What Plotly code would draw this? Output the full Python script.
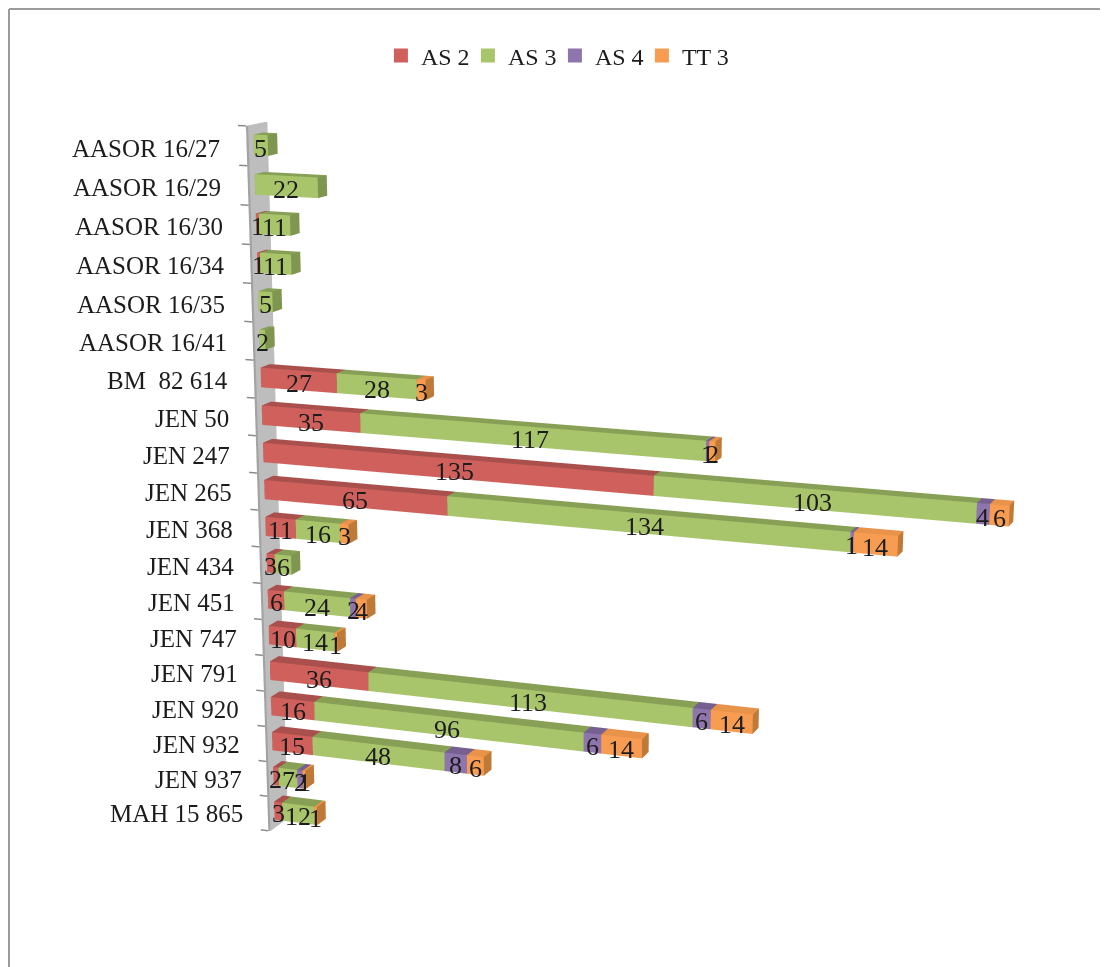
"""3D-style stacked bar chart of tablet counts by publication."""

import plotly.graph_objects as go

# ── Data ──────────────────────────────────────────────────────────────────────
CATEGORIES = [
    "AASOR 16/27", "AASOR 16/29", "AASOR 16/30", "AASOR 16/34", "AASOR 16/35",
    "AASOR 16/41", "BM  82 614", "JEN 50", "JEN 247", "JEN 265", "JEN 368",
    "JEN 434", "JEN 451", "JEN 747", "JEN 791", "JEN 920", "JEN 932",
    "JEN 937", "MAH 15 865",
]
AS2 = [0, 0, 1, 1, 0, 0, 27, 35, 135, 65, 11, 3, 6, 10, 36, 16, 15, 2, 3]
AS3 = [5, 22, 11, 11, 5, 2, 28, 117, 103, 134, 16, 6, 24, 14, 113, 96, 48, 7, 12]
AS4 = [0, 0, 0, 0, 0, 0, 0, 1, 4, 1, 0, 0, 2, 0, 6, 6, 8, 2, 0]
TT3 = [0, 0, 0, 0, 0, 0, 3, 2, 6, 14, 3, 0, 4, 1, 14, 14, 6, 1, 1]

# ── Theme ─────────────────────────────────────────────────────────────────────
FONT = "Liberation Serif"
TEXT = "#1c1c1c"
FRAME = "#9c9c9c"
# name, values, front, top, end
SERIES = [
    ("AS 2", AS2, "#d0605c", "#a9504d", "#a9504d"),
    ("AS 3", AS3, "#a9c56b", "#87a055", "#7f9650"),
    ("AS 4", AS4, "#8f75ad", "#75608f", "#6f5a88"),
    ("TT 3", TT3, "#f79c50", "#e8924a", "#bf7a38"),
]

# bars have depth 1; the back of a box leans by this much (value units, rows)
LEAN_X = 2.1
LEAN_Z = 0.09
# rows drop a little along the value axis
SHEAR = 0.0053
HALF_BAR = 0.26
N = len(CATEGORIES)


def place(x, y, z):
    return x + LEAN_X * y, y, z + LEAN_Z * y - SHEAR * x


def add_box(mesh, x0, x1, z0, z1, y0, y1, front, top, end):
    """Append one box (12 triangles) to a mesh dict."""
    base = len(mesh["x"])
    for y in (y0, y1):
        for x, z in ((x0, z0), (x1, z0), (x1, z1), (x0, z1)):
            px, py, pz = place(x, y, z)
            mesh["x"].append(px)
            mesh["y"].append(py)
            mesh["z"].append(pz)
    faces = [
        ((0, 1, 2), front), ((0, 2, 3), front),
        ((3, 2, 6), top), ((3, 6, 7), top),
        ((1, 5, 6), end), ((1, 6, 2), end),
        ((0, 4, 7), end), ((0, 7, 3), end),
        ((0, 1, 5), end), ((0, 5, 4), end),
        ((4, 5, 6), end), ((4, 6, 7), end),
    ]
    for (a, b, c), color in faces:
        mesh["i"].append(base + a)
        mesh["j"].append(base + b)
        mesh["k"].append(base + c)
        mesh["facecolor"].append(color)


def new_mesh():
    return dict(x=[], y=[], z=[], i=[], j=[], k=[], facecolor=[])


def flat(mesh):
    return go.Mesh3d(
        **mesh, flatshading=True, hoverinfo="skip", showscale=False,
        lighting=dict(ambient=1, diffuse=0, specular=0, fresnel=0, roughness=1),
    )


def label(x, y, z, text, anchor, size):
    px, py, pz = place(x, y, z)
    return dict(
        x=px, y=py, z=pz, text=text, showarrow=False,
        xanchor=anchor, yanchor="middle",
        font=dict(family=FONT, size=size, color=TEXT),
    )


fig = go.Figure()
annotations = []

# Axis wall
wall = new_mesh()
add_box(wall, -0.8, 0, -0.5, N - 0.5, -0.5, 1.5, "#a3a3a3", "#bdbdbd", "#bdbdbd")
fig.add_trace(flat(wall))

# Tick marks at the row boundaries
tick_x, tick_y, tick_z = [], [], []
for r in range(N + 1):
    for x in (-0.8, -3.6):
        px, py, pz = place(x, -0.5, r - 0.5)
        tick_x.append(px)
        tick_y.append(py)
        tick_z.append(pz)
    tick_x.append(None)
    tick_y.append(None)
    tick_z.append(None)
fig.add_trace(go.Scatter3d(
    x=tick_x, y=tick_y, z=tick_z, mode="lines",
    line=dict(color="#8c8c8c", width=3), hoverinfo="skip", showlegend=False,
))

# Stacked bars
totals = [0] * N
for name, values, front, top, end in SERIES:
    mesh = new_mesh()
    for i, v in enumerate(values):
        if not v:
            continue
        z = N - 1 - i
        add_box(mesh, totals[i], totals[i] + v, z - HALF_BAR, z + HALF_BAR, 0, 1, front, top, end)
        annotations.append(label(totals[i] + v / 2, 0, z - 0.08, str(v), "center", 26))
        totals[i] += v
    fig.add_trace(flat(mesh))
    # legend entry
    fig.add_trace(go.Scatter(x=[None], y=[None], name=name, mode="markers",
                             marker=dict(color=front, symbol="square", size=14)))

# Category labels
for i, cat in enumerate(CATEGORIES):
    annotations.append(label(-9.5, -0.5, N - 1 - i - 0.09, cat, "right", 25))

hidden = dict(visible=False, showgrid=False, zeroline=False, showticklabels=False,
              showspikes=False, autorange=False)

fig.update_layout(
    width=1100, height=959,
    margin=dict(l=0, r=0, t=0, b=0),
    paper_bgcolor="white",
    plot_bgcolor="rgba(0,0,0,0)",
    font=dict(family=FONT, size=24, color=TEXT),
    showlegend=True,
    legend=dict(orientation="h", x=0.4972, xanchor="center", y=0.95, yanchor="middle",
                entrywidth=42, entrywidthmode="pixels",
                bgcolor="rgba(0,0,0,0)", font=dict(family=FONT, size=24, color=TEXT)),
    xaxis=dict(visible=False), yaxis=dict(visible=False),
    scene=dict(
        domain=dict(x=[0, 1092 / 1100], y=[8 / 959, 1]),
        bgcolor="rgba(0,0,0,0)",
        aspectmode="manual",
        aspectratio=dict(x=2.60, y=0.066, z=2.02),
        xaxis=dict(range=[-148.3, 351.7], **hidden),
        yaxis=dict(range=[-2, 2], **hidden),
        zaxis=dict(range=[-5.7, 24.3], **hidden),
        camera=dict(
            eye=dict(x=0.2763, y=-1.9657, z=0.244),
            center=dict(x=0, y=0, z=0),
            up=dict(x=-0.0059, y=-0.0008, z=1),
            projection=dict(type="perspective"),
        ),
        annotations=annotations,
    ),
    shapes=[
        dict(type="line", xref="paper", yref="paper", x0=1 / 1100, x1=1 / 1100, y0=0, y1=1 - 1 / 959,
             line=dict(color=FRAME, width=2)),
        dict(type="line", xref="paper", yref="paper", x0=1 / 1100, x1=1, y0=1 - 1 / 959, y1=1 - 1 / 959,
             line=dict(color=FRAME, width=2)),
    ],
)

fig.write_html("out.html")
